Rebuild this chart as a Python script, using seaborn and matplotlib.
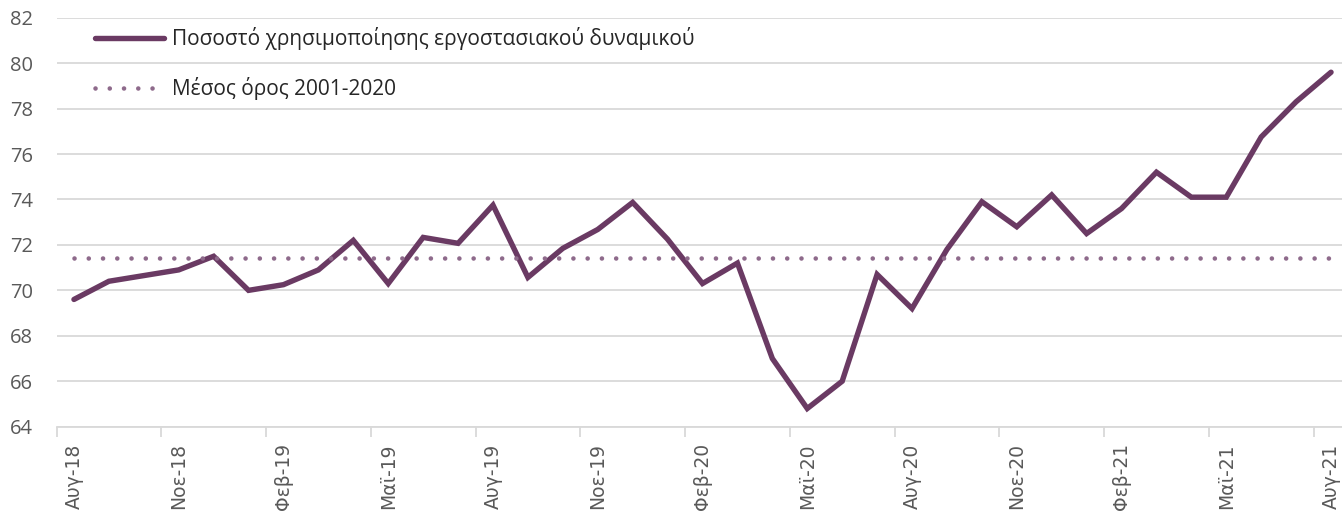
import numpy as np
import pandas as pd
import matplotlib
matplotlib.use("Agg")
import matplotlib.pyplot as plt
from matplotlib.ticker import FixedLocator, MultipleLocator
import seaborn as sns

# Data: monthly capacity utilisation, Aug-18 .. Aug-21
months = ['Αυγ-18', 'Σεπ-18', 'Οκτ-18', 'Νοε-18', 'Δεκ-18', 'Ιαν-19', 'Φεβ-19',
          'Μαρ-19', 'Απρ-19', 'Μαϊ-19', 'Ιουν-19', 'Ιουλ-19', 'Αυγ-19', 'Σεπ-19',
          'Οκτ-19', 'Νοε-19', 'Δεκ-19', 'Ιαν-20', 'Φεβ-20', 'Μαρ-20', 'Απρ-20',
          'Μαϊ-20', 'Ιουν-20', 'Ιουλ-20', 'Αυγ-20', 'Σεπ-20', 'Οκτ-20', 'Νοε-20',
          'Δεκ-20', 'Ιαν-21', 'Φεβ-21', 'Μαρ-21', 'Απρ-21', 'Μαϊ-21', 'Ιουν-21',
          'Ιουλ-21', 'Αυγ-21']
utilisation = [69.6, 70.4, 70.65, 70.9, 71.5, 70.0, 70.25, 70.9, 72.2, 70.3,
               72.33, 72.07, 73.75, 70.57, 71.85, 72.68, 73.87, 72.25, 70.3,
               71.2, 67.0, 64.8, 66.0, 70.7, 69.2, 71.8, 73.9, 72.8, 74.2, 72.5,
               73.6, 75.2, 74.1, 74.1, 76.75, 78.3, 79.6]
avg_2001_2020 = 71.44

label_main = 'Ποσοστό χρησιμοποίησης εργοστασιακού δυναμικού'
label_avg = 'Μέσος όρος 2001-2020'

df = pd.DataFrame({"pos": np.arange(len(months)),
                   "month": months,
                   "value": utilisation})
df["avg"] = avg_2001_2020

sns.set_style("white")
plt.rcParams['font.family'] = ['Open Sans', 'DejaVu Sans']

line_col = '#6A3A63'
avg_col = '#8E6A8B'
grid_col = '#D9D9D9'
text_col = '#595959'

fig = plt.figure(figsize=(13.42, 5.16), dpi=100)
ax = fig.add_axes([56.5 / 1342, 0.1731, 1292 / 1342, 0.7926])

sns.lineplot(data=df, x="pos", y="value", ax=ax, color=line_col, linewidth=3.9,
             label=label_main, solid_joinstyle='miter', solid_capstyle='round')
sns.lineplot(data=df, x="pos", y="avg", ax=ax, color=avg_col, linewidth=3.3,
             linestyle=(0, (0.01, 3.1)), dash_capstyle='round', label=label_avg)

ax.set_xlim(-0.5, len(months) - 0.5)
ax.set_ylim(64, 82)
ax.yaxis.set_major_locator(MultipleLocator(2))
ax.grid(axis='y', color=grid_col, linewidth=1.3)
ax.set_axisbelow(True)
for side in ['top', 'right', 'left']:
    ax.spines[side].set_visible(False)
ax.spines['bottom'].set_color(grid_col)
ax.spines['bottom'].set_linewidth(1.3)

# labels every 3rd month, tick marks between categories
ax.xaxis.set_major_locator(FixedLocator(df["pos"][::3].tolist()))
ax.set_xticklabels(df["month"][::3].tolist(), rotation=90, family='DejaVu Sans',
                   fontsize=13.5, color=text_col, va='top')
ax.xaxis.set_minor_locator(FixedLocator((df["pos"][::3] - 0.5).tolist()))
ax.tick_params(axis='x', which='major', length=0, pad=12)
ax.tick_params(axis='x', which='minor', length=7, width=1.3, color=grid_col, bottom=True)
ax.tick_params(axis='y', length=0, pad=17, labelsize=14.5, labelcolor=text_col)
ax.set_xlabel('')
ax.set_ylabel('')

leg = ax.legend(loc='upper left', bbox_to_anchor=(95 / 1342, 1 - 27 / 516),
                bbox_transform=fig.transFigure, frameon=False, borderpad=0,
                borderaxespad=0, handlelength=3.3, handletextpad=0.4,
                labelspacing=1.3, fontsize=15)
for t in leg.get_texts():
    t.set_color('#262626')

fig.savefig("out.png", dpi=100)
